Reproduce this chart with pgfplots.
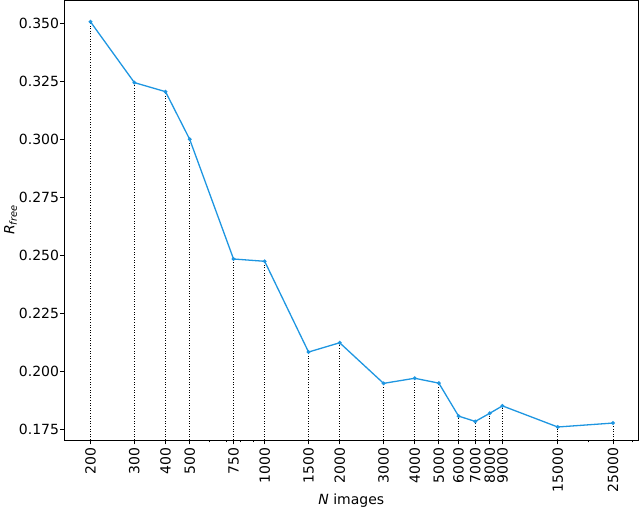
\documentclass[border=0pt]{standalone}
\usepackage{fontspec}
\setmainfont{DejaVu Sans}
\usepackage{pgfplots}
\pgfplotsset{compat=1.18}
\usepackage{pgfplotstable}

\definecolor{lineblue}{RGB}{30,150,225}

\pgfplotstableread{
n      r
200    0.3505
300    0.3243
400    0.3204
500    0.2999
750    0.2483
1000   0.2473
1500   0.2082
2000   0.2122
3000   0.1947
4000   0.1969
5000   0.1948
6000   0.1806
7000   0.1783
8000   0.1818
9000   0.1850
15000  0.1759
25000  0.1776
}\rfree

\begin{document}
\begin{tikzpicture}
\begin{axis}[
    scale only axis,
    width=573.5pt, height=440pt,
    xmode=log,
    xmin=157.3, xmax=31500,
    ymin=0.1703, ymax=0.3599,
    xtick={200,300,400,500,750,1000,1500,2000,3000,4000,5000,6000,7000,8000,9000,15000,25000},
    xticklabels={200,300,400,500,750,1000,1500,2000,3000,4000,5000,6000,7000,8000,9000,15000,25000},
    minor xtick={200,300,400,500,600,700,800,900,2000,3000,4000,5000,6000,7000,8000,9000,20000,30000},
    ytick={0.175,0.2,0.225,0.25,0.275,0.3,0.325,0.35},
    yticklabel style={xshift=2.5pt, /pgf/number format/.cd, fixed, fixed zerofill, precision=3},
    /pgf/number format/assume math mode=true,
    tick style={black, line width=0.8pt},
    major tick length=4.5pt,
    minor tick length=2.5pt,
    tick align=outside,
    xtick pos=bottom, ytick pos=left,
    axis line style={black, line width=0.8pt},
    tick label style={font=\fontsize{14}{17}\selectfont},
    xticklabel style={rotate=90, anchor=east},
    label style={font=\fontsize{14}{17}\selectfont},
    xlabel={\textit{N} images},
    ylabel={\textit{R}\textsubscript{\itshape free}},
    xlabel style={yshift=6pt},
    ylabel style={yshift=-5pt},
    clip=true,
]
\addplot[black, line width=0.8pt, dash pattern=on 1pt off 1.6pt, ycomb, mark=none] table[x=n, y=r] {\rfree};
\addplot[lineblue, line width=1.3pt, mark=*, mark size=1.2pt, mark options={solid}] table[x=n, y=r] {\rfree};
\coordinate (sw) at (rel axis cs:0,0);
\end{axis}
\pgfresetboundingbox
\path (sw) ++(-64.5pt,-70pt) rectangle ++(640pt,510pt);
\end{tikzpicture}
\end{document}
